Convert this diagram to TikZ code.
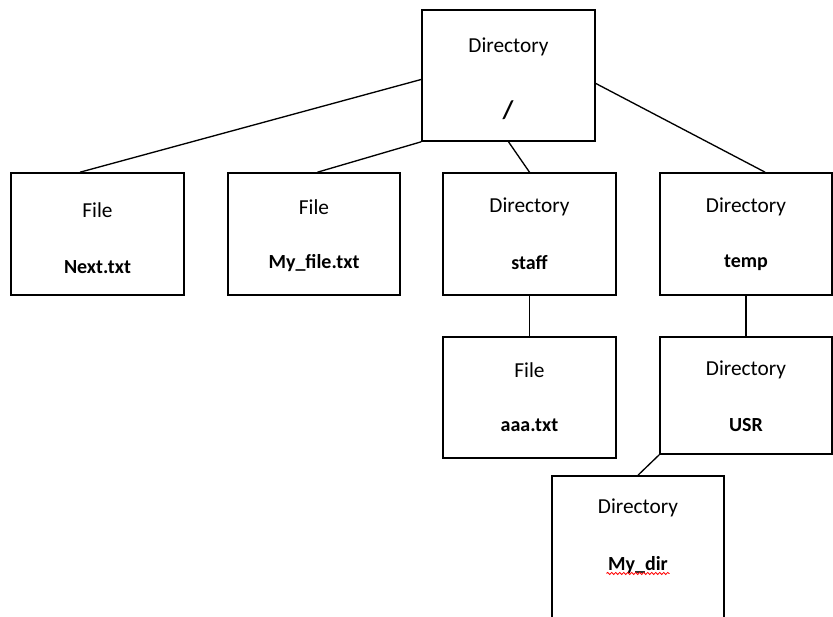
\documentclass[tikz,border=0pt]{standalone}
\usepackage{fontspec}
\setmainfont{Carlito}
\usetikzlibrary{calc,positioning,decorations.pathmorphing}

\begin{document}
\begin{tikzpicture}[x=0.75pt,y=-0.75pt,
	box/.style={draw,line width=1.2pt,minimum width=129.75pt,minimum height=91.5pt,inner sep=0pt},
	kind/.style={font=\fontsize{16}{19}\selectfont},
	fname/.style={font=\fontsize{15}{18}\selectfont\bfseries},
	link/.style={line width=1pt},
	squig/.style={red,line width=0.6pt,decorate,decoration={snake,amplitude=0.8pt,segment length=3pt}}]
	\useasboundingbox (0,0) rectangle (833,617);
	\clip (0,0) rectangle (833,617);
	% root
	\node[box,minimum height=98.25pt] (root) at (508.5,75.5) {};
	\node[kind] (root-k) at (508.5,47) {Directory};
	\node[font=\fontsize{19}{22}\selectfont\bfseries] (root-n) at (508,110) {/};
	% first row
	\node[box] (nextf) at (97.5,234) {};
	\node[kind] (nextf-k) at (97.5,210) {File};
	\node[fname] (nextf-n) at (97.5,267) {Next.txt};
	\node[box,minimum width=129pt] (myfile) at (314,234) {};
	\node[kind] (myfile-k) at (314,207) {File};
	\node[fname] (myfile-n) at (314,263) {My\_file.txt};
	\node[box] (staff) at (529.5,234) {};
	\node[kind] (staff-k) at (529.5,207) {Directory};
	\node[fname] (staff-n) at (529.5,263) {staff};
	\node[box,minimum width=129pt] (temp) at (746,234) {};
	\node[kind] (temp-k) at (746,207) {Directory};
	\node[fname] (temp-n) at (746,263) {temp};
	% second row
	\node[box,minimum height=90.75pt] (aaa) at (529.5,397.5) {};
	\node[kind] (aaa-k) at (529.5,370) {File};
	\node[fname] (aaa-n) at (529.5,425) {aaa.txt};
	\node[box,minimum width=129pt,minimum height=87.75pt] (usr) at (746,395.5) {};
	\node[kind] (usr-k) at (746,370) {Directory};
	\node[fname] (usr-n) at (746,425) {USR};
	% third row
	\node[box,minimum width=129pt,minimum height=120pt] (mydir) at (638,556) {};
	\node[kind] (mydir-k) at (638,508) {Directory};
	\node[fname] (mydir-n) at (638,565) {My\_dir};
	\draw[squig] ($(mydir-n.base west)+(3,3)$) -- ($(mydir-n.base east)+(-3,3)$);
	% links
	\draw[link] ($(root.north west)!0.53!(root.south west)$) -- ($(nextf.north west)!0.4!(nextf.north east)$);
	\draw[link] (root.south west) -- ($(myfile.north west)!0.52!(myfile.north east)$);
	\draw[link] (root.south) -- (staff.north);
	\draw[link] ($(root.north east)!0.56!(root.south east)$) -- ($(temp.north west)!0.61!(temp.north east)$);
	\draw[link] (staff.south) -- (aaa.north);
	\draw[link] (temp.south) -- (usr.north);
	\draw[link] (usr.south west) -- (mydir.north);
\end{tikzpicture}
\end{document}
